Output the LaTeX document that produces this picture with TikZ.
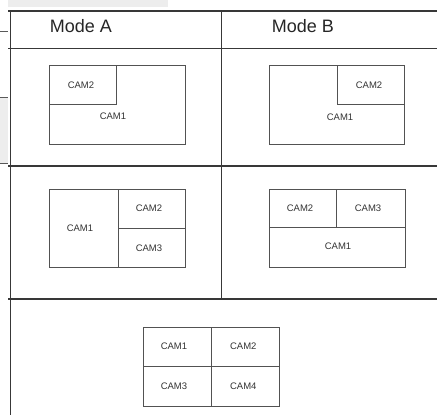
\documentclass[tikz,border=0pt]{standalone}
\usepackage{fontspec}
\setmainfont{Liberation Sans}
\begin{document}
\begin{tikzpicture}[x=1pt,y=-1pt,
  grid/.style={draw=black!78,line width=1.4pt},
  cambox/.style={draw=black!68,line width=0.9pt},
  camlbl/.style={text=black!80,font=\fontsize{9.5}{11}\selectfont,inner sep=0pt},
  modelbl/.style={text=black!85,font=\fontsize{18}{21}\selectfont,inner sep=0pt},
  artifact/.style={fill=black!7,draw=none},
  artline/.style={draw=black!65,line width=1pt}]
\useasboundingbox (0,0) rectangle (437,415);
% screenshot remnants at top-left
\fill[artifact] (8,0) rectangle (168,7);
\fill[artifact] (0,97) rectangle (8,163);
\draw[artline] (0,31) -- (8,31);
\draw[artline] (0,97) -- (8,97);
\draw[artline] (0,163) -- (8,163);
% main grid
\draw[grid] (10.7,10) -- (10.7,415);
\draw[grid] (8,11) -- (437,11);
\draw[grid] (8,48.3) -- (437,48.3);
\draw[grid] (8,166) -- (437,166);
\draw[grid] (8,299) -- (437,299);
\draw[grid] (221.7,11) -- (221.7,299);
% headers
\node[modelbl] (ma) at (81,26) {Mode A};
\node[modelbl] (mb) at (303,26) {Mode B};
% A1
\draw[cambox] (49.3,65.7) rectangle (185,144.3);
\draw[cambox] (49.3,104.3) -- (116.7,104.3) -- (116.7,65.7);
\node[camlbl] (a1c2) at (81,85.5) {CAM2};
\node[camlbl] (a1c1) at (113,116) {CAM1};
% B1
\draw[cambox] (269,65.7) rectangle (404.7,144.3);
\draw[cambox] (337.3,65.7) -- (337.3,104.3) -- (404.7,104.3);
\node[camlbl] (b1c2) at (369,85.5) {CAM2};
\node[camlbl] (b1c1) at (340,117) {CAM1};
% A2
\draw[cambox] (49.3,189) rectangle (185,267.3);
\draw[cambox] (118.3,189) -- (118.3,267.3);
\draw[cambox] (118.3,228.3) -- (185,228.3);
\node[camlbl] (a2c1) at (80,228) {CAM1};
\node[camlbl] (a2c2) at (149,208) {CAM2};
\node[camlbl] (a2c3) at (149,248) {CAM3};
% B2
\draw[cambox] (269.3,189) rectangle (405,267.3);
\draw[cambox] (269.3,227) -- (405,227);
\draw[cambox] (336.7,189) -- (336.7,227);
\node[camlbl] (b2c2) at (300,208) {CAM2};
\node[camlbl] (b2c3) at (368,208) {CAM3};
\node[camlbl] (b2c1) at (338,246) {CAM1};
% C
\draw[cambox] (143.3,327.3) rectangle (279.3,406);
\draw[cambox] (211,327.3) -- (211,406);
\draw[cambox] (143.3,366.7) -- (279.3,366.7);
\node[camlbl] (cc1) at (174,346.7) {CAM1};
\node[camlbl] (cc2) at (243.3,346.7) {CAM2};
\node[camlbl] (cc3) at (174,386.7) {CAM3};
\node[camlbl] (cc4) at (243.3,386.7) {CAM4};
\end{tikzpicture}
\end{document}
